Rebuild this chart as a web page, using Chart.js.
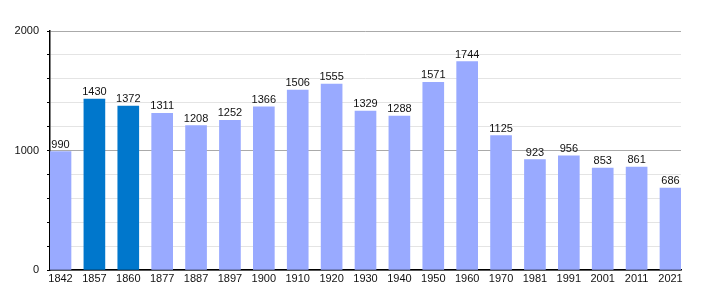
<!DOCTYPE html>
<html>
<head>
<meta charset="utf-8">
<script src="https://cdn.jsdelivr.net/npm/chart.js@4/dist/chart.umd.min.js"></script>
<style>
html,body{margin:0;padding:0;background:#fff;}
#wrap{width:710px;height:300px;position:relative;}
</style>
</head>
<body>
<div id="wrap"><canvas id="c" width="710" height="300"></canvas></div>
<script>
const years = ['1842','1857','1860','1877','1887','1897','1900','1910','1920','1930','1940','1950','1960','1970','1981','1991','2001','2011','2021'];
const population = [990,1430,1372,1311,1208,1252,1366,1506,1555,1329,1288,1571,1744,1125,923,956,853,861,686];
const highlighted = ['1857','1860'];
const yTickLabels = [0,1000,2000];

const LIGHT = '#99aaff';
const DARK = '#0077cc';
const FONT = '"Liberation Sans", Arial, sans-serif';

const barLabels = {
  id: 'barLabels',
  afterDatasetsDraw(chart) {
    const ctx = chart.ctx;
    const meta = chart.getDatasetMeta(0);
    ctx.save();
    ctx.font = '11px ' + FONT;
    ctx.fillStyle = '#111';
    ctx.textAlign = 'center';
    ctx.textBaseline = 'alphabetic';
    meta.data.forEach((el, i) => {
      ctx.fillText(String(population[i]), el.x, el.y - 4);
    });
    ctx.restore();
  }
};

new Chart(document.getElementById('c'), {
  type: 'bar',
  data: {
    datasets: [{
      data: population.map((v, i) => ({x: i, y: v})),
      backgroundColor: years.map(y => highlighted.includes(y) ? DARK : LIGHT),
      borderWidth: 0,
      barThickness: 21
    }]
  },
  options: {
    responsive: false,
    animation: false,
    events: [],
    layout: {padding: {top: 31, right: 29, left: 0, bottom: 0}},
    plugins: {legend: {display: false}, tooltip: {enabled: false}, title: {display: false}},
    scales: {
      x: {
        type: 'linear',
        offset: false,
        min: -0.31,
        max: 18.31,
        afterBuildTicks(scale) {
          scale.ticks = years.map((y, i) => ({value: i}));
        },
        afterFit(scale) { scale.height = 30; },
        ticks: {
          callback: (v) => years[v] ?? '',
          color: '#111',
          font: {family: FONT, size: 11},
          padding: 2,
          maxRotation: 0,
          autoSkip: false
        },
        grid: {display: false, drawTicks: false},
        border: {display: true, color: '#000', width: 1.5}
      },
      y: {
        min: 0,
        max: 2000,
        afterBuildTicks(scale) {
          const t = [];
          for (let v = 0; v <= 2000; v += 200) t.push({value: v});
          scale.ticks = t;
        },
        afterFit(scale) { scale.width = 50; },
        ticks: {
          callback: (v) => yTickLabels.includes(v) ? String(v) : '',
          color: '#111',
          font: {family: FONT, size: 11},
          padding: 8,
          autoSkip: false
        },
        grid: {
          color: (c) => (c.tick && c.tick.value % 1000 === 0) ? '#aaaaaa' : '#e4e4e4',
          tickColor: '#000',
          tickLength: 3,
          lineWidth: 1
        },
        border: {display: true, color: '#000', width: 1.5}
      }
    }
  },
  plugins: [barLabels]
});
</script>
</body>
</html>
